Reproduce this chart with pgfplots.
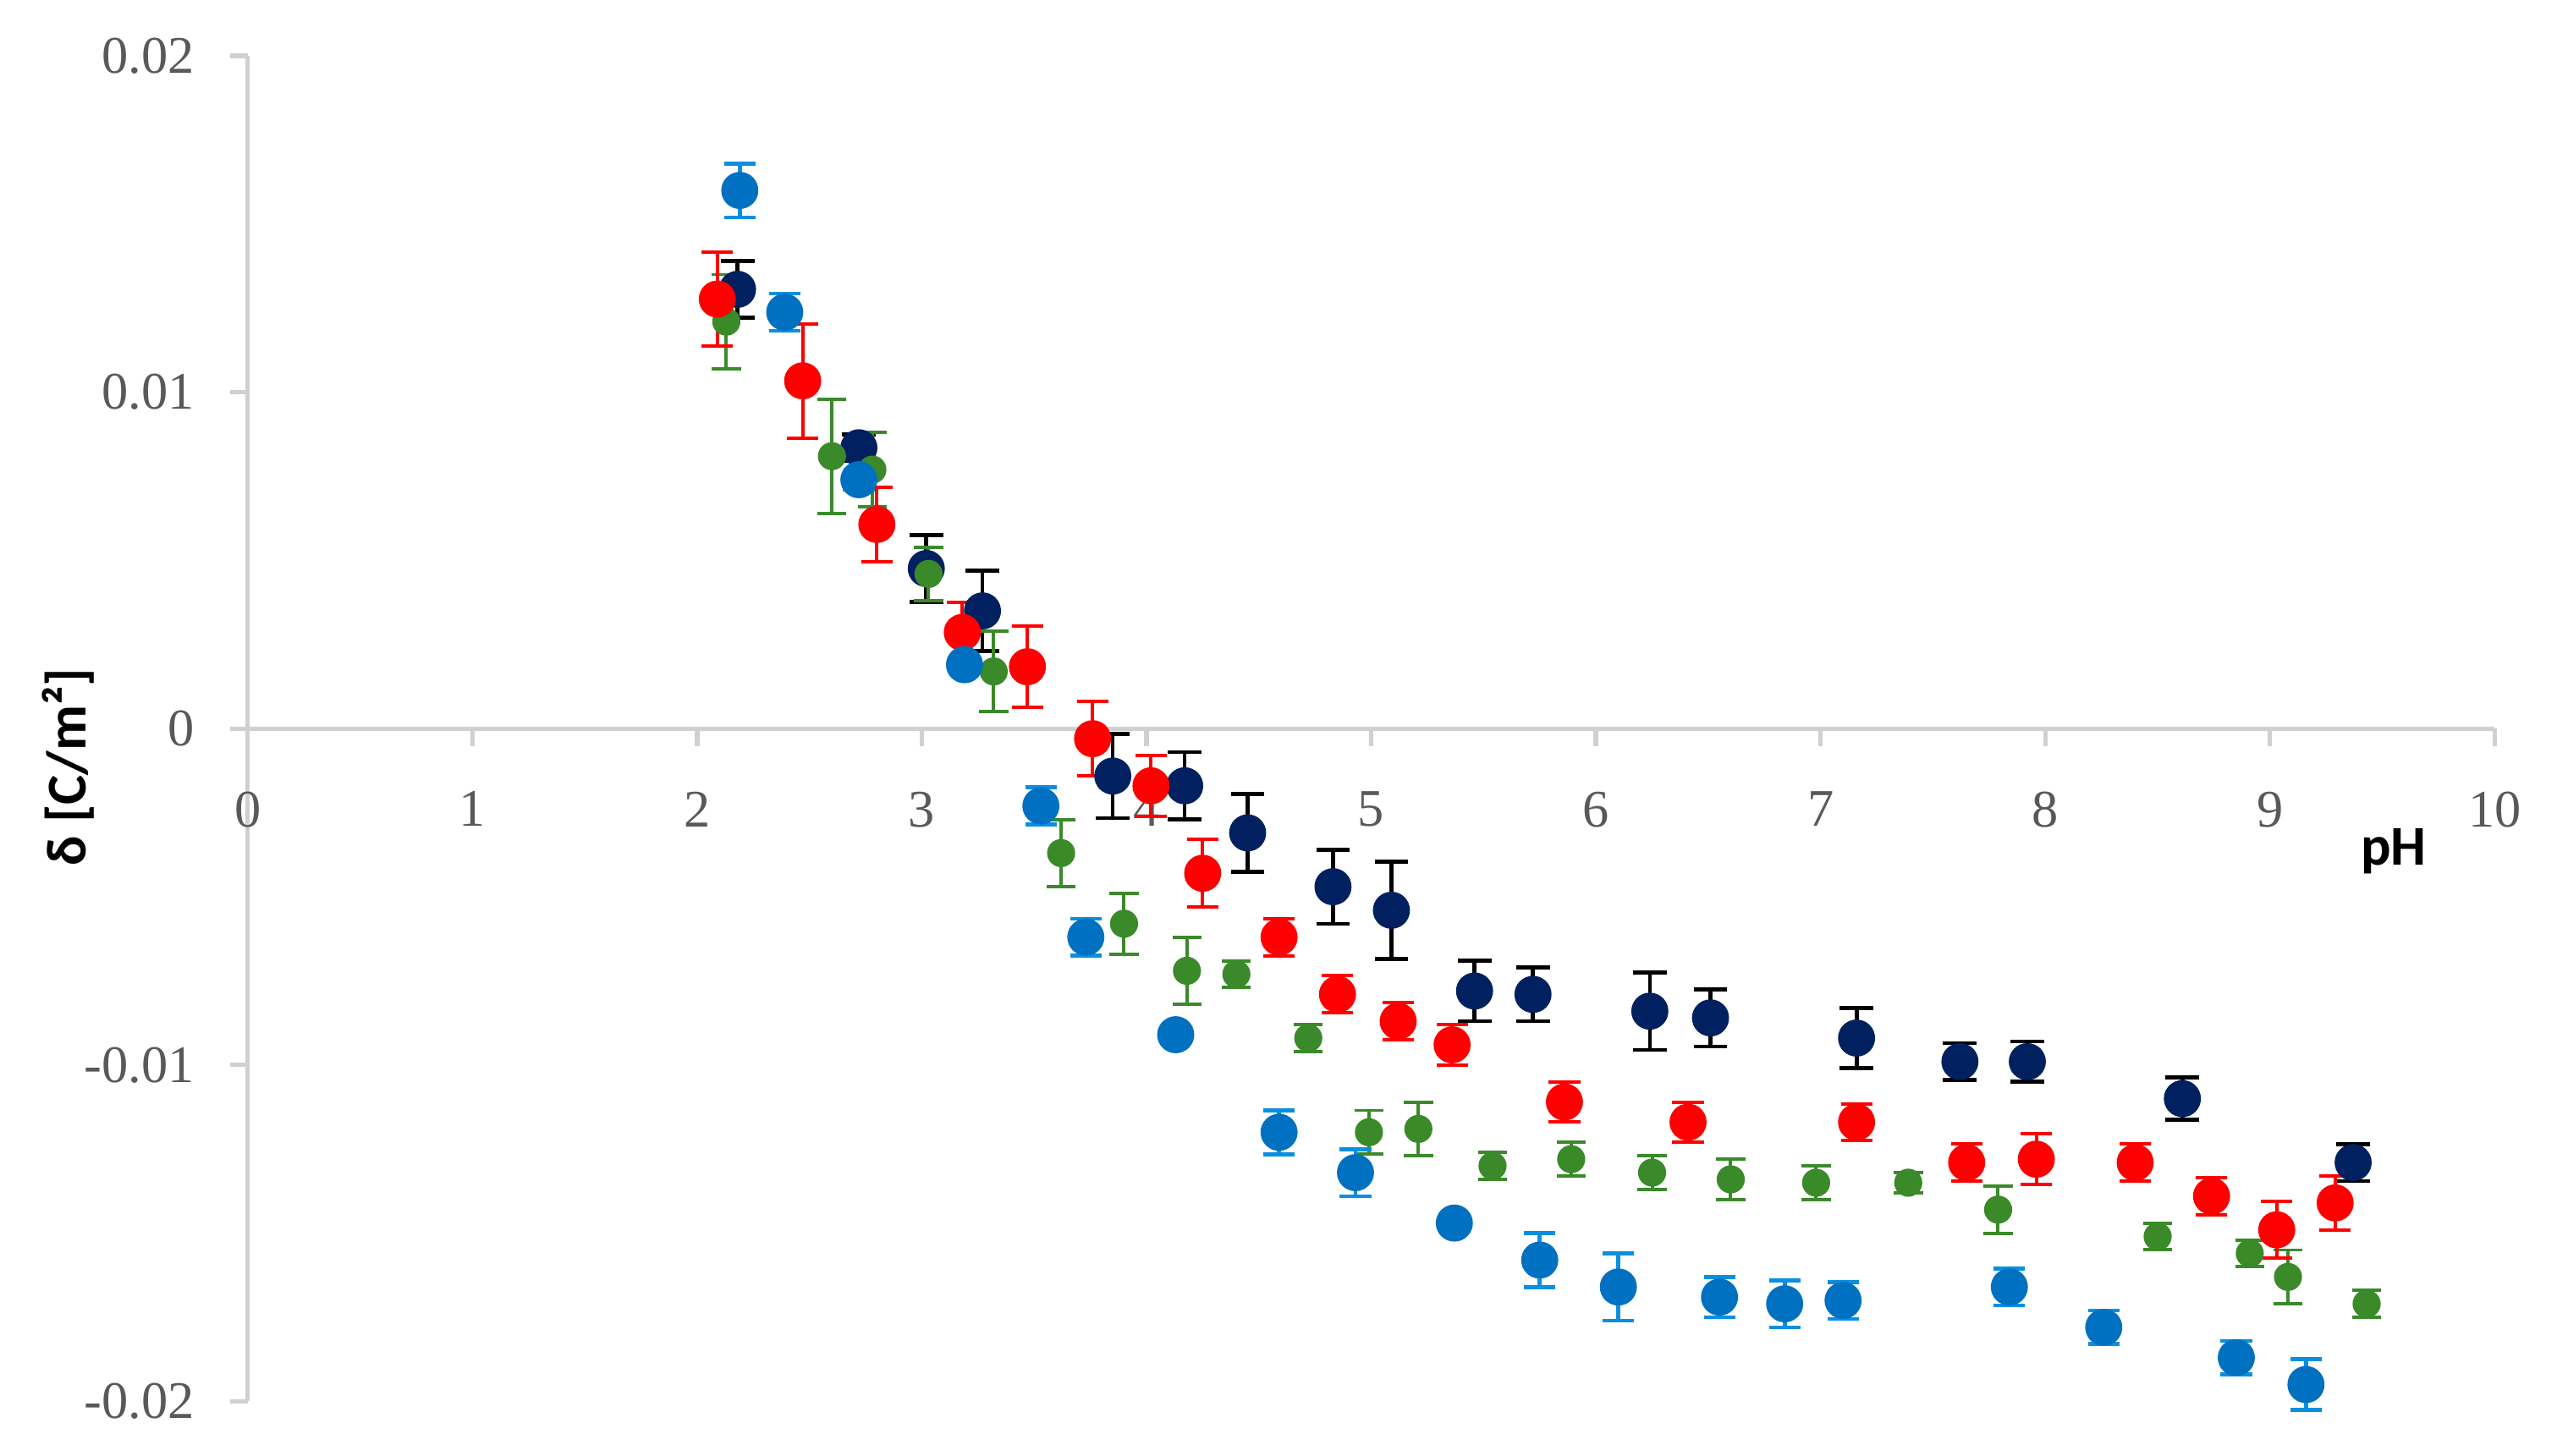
\documentclass[border=0pt]{standalone}
\usepackage{fontspec}
\setmainfont{Liberation Serif}
\newfontfamily\labelfont{Carlito}
\usepackage{pgfplots}
\usepackage{pgfplotstable}
\pgfplotsset{compat=1.18}

\definecolor{navy}{HTML}{002060}
\definecolor{sblue}{HTML}{0070C0}
\definecolor{eblue}{HTML}{0A8FE0}
\definecolor{sgreen}{HTML}{3A8A2A}
\definecolor{axgray}{HTML}{D0D0D0}
\definecolor{txtgray}{HTML}{595959}

% pH, delta [C/m2], error
\pgfplotstableread{
x y e
2.18 0.01306 0.00085
2.72 0.00835 0.00040
3.02 0.00476 0.00100
3.27 0.00350 0.00120
3.85 -0.00141 0.00125
4.17 -0.00170 0.00100
4.45 -0.00310 0.00115
4.83 -0.00470 0.00110
5.09 -0.00540 0.00145
5.46 -0.00780 0.00090
5.72 -0.00790 0.00080
6.24 -0.00840 0.00115
6.51 -0.00860 0.00085
7.16 -0.00920 0.00090
7.62 -0.00990 0.00055
7.92 -0.00990 0.00060
8.61 -0.01100 0.00063
9.37 -0.01290 0.00055
}\navydata

\pgfplotstableread{
x y e
2.19 0.01600 0.00080
2.39 0.01238 0.00055
2.72 0.00740 0.00030
3.19 0.00190 0.00010
3.53 -0.00230 0.00055
3.73 -0.00620 0.00055
4.13 -0.00910 0.00010
4.59 -0.01200 0.00065
4.93 -0.01320 0.00070
5.37 -0.01470 0.00010
5.75 -0.01580 0.00080
6.10 -0.01660 0.00100
6.55 -0.01690 0.00060
6.84 -0.01710 0.00070
7.10 -0.01700 0.00055
7.84 -0.01660 0.00055
8.26 -0.01780 0.00050
8.85 -0.01870 0.00050
9.16 -0.01950 0.00075
}\bluedata

\pgfplotstableread{
x y e
2.09 0.01277 0.00140
2.47 0.01034 0.00170
2.80 0.00607 0.00110
3.18 0.00286 0.00090
3.47 0.00184 0.00120
3.76 -0.00030 0.00110
4.02 -0.00170 0.00090
4.25 -0.00430 0.00100
4.59 -0.00620 0.00055
4.85 -0.00790 0.00055
5.12 -0.00870 0.00055
5.36 -0.00940 0.00060
5.86 -0.01110 0.00060
6.41 -0.01170 0.00060
7.16 -0.01170 0.00055
7.65 -0.01290 0.00055
7.96 -0.01280 0.00075
8.40 -0.01290 0.00055
8.74 -0.01390 0.00055
9.03 -0.01490 0.00085
9.29 -0.01410 0.00080
}\reddata

\pgfplotstableread{
x y e
2.13 0.01210 0.00140
2.60 0.00810 0.00170
2.78 0.00770 0.00110
3.03 0.00460 0.00080
3.32 0.00170 0.00120
3.62 -0.00370 0.00100
3.90 -0.00580 0.00090
4.18 -0.00720 0.00100
4.40 -0.00730 0.00040
4.72 -0.00920 0.00040
4.99 -0.01200 0.00065
5.21 -0.01190 0.00080
5.54 -0.01300 0.00040
5.89 -0.01280 0.00050
6.25 -0.01320 0.00050
6.60 -0.01340 0.00060
6.98 -0.01350 0.00050
7.39 -0.01350 0.00030
7.79 -0.01430 0.00070
8.50 -0.01510 0.00040
8.91 -0.01560 0.00040
9.08 -0.01630 0.00080
9.43 -0.01710 0.00040
}\greendata

\begin{document}
\begin{tikzpicture}
\begin{axis}[
    scale only axis,
    width=14.06cm, height=8.42cm,
    xmin=0, xmax=10, ymin=-0.02, ymax=0.02,
    axis x line*=middle, axis y line*=left,
    axis line style={axgray, line width=0.8pt},
    tick style={axgray, line width=0.8pt},
    tick align=outside, major tick length=0.11cm,
    hide obscured x ticks=false, hide obscured y ticks=false,
    xtick={0,1,...,10},
    ytick={-0.02,-0.01,0,0.01,0.02},
    yticklabels={-0.02,-0.01,0,0.01,0.02},
    scaled y ticks=false,
    /pgf/number format/assume math mode=true,
    ticklabel style={font=\fontsize{9.4}{10}\selectfont, text=txtgray},
    xticklabel style={yshift=-0.16cm},
    yticklabel style={xshift=-0.1cm},
    xlabel={\labelfont\bfseries pH},
    xlabel style={at={(axis description cs:0.955,0.5)}, anchor=north, yshift=-0.5cm, font=\fontsize{10}{12}\selectfont},
    ylabel={\labelfont\bfseries δ [C/m²]},
    ylabel style={at={(axis description cs:-0.08,0.4715)}, anchor=center, rotate=0, font=\fontsize{10}{12}\selectfont},
    clip=false,
]
\addplot[only marks, mark=*, mark size=3.1pt, color=navy,
    error bars/.cd, y dir=both, y explicit,
    error bar style={black, line width=0.7pt},
    error mark options={rotate=90, mark size=3pt, black, line width=0.7pt}]
    table[x=x, y=y, y error=e] {\navydata};
\addplot[only marks, mark=*, mark size=2.3pt, color=sgreen,
    error bars/.cd, y dir=both, y explicit,
    error bar style={sgreen, line width=0.6pt},
    error mark options={rotate=90, mark size=2.6pt, sgreen, line width=0.6pt}]
    table[x=x, y=y, y error=e] {\greendata};
\addplot[only marks, mark=*, mark size=3.1pt, color=red,
    error bars/.cd, y dir=both, y explicit,
    error bar style={red, line width=0.6pt},
    error mark options={rotate=90, mark size=2.8pt, red, line width=0.6pt}]
    table[x=x, y=y, y error=e] {\reddata};
\addplot[only marks, mark=*, mark size=3.1pt, color=sblue,
    error bars/.cd, y dir=both, y explicit,
    error bar style={eblue, line width=0.7pt},
    error mark options={rotate=90, mark size=2.8pt, eblue, line width=0.7pt}]
    table[x=x, y=y, y error=e] {\bluedata};
\end{axis}
\pgfresetboundingbox
\path ([shift={(-1.55cm,-0.34cm)}]current axis.south west) rectangle ([shift={(0.39cm,0.35cm)}]current axis.north east);
\end{tikzpicture}
\end{document}
